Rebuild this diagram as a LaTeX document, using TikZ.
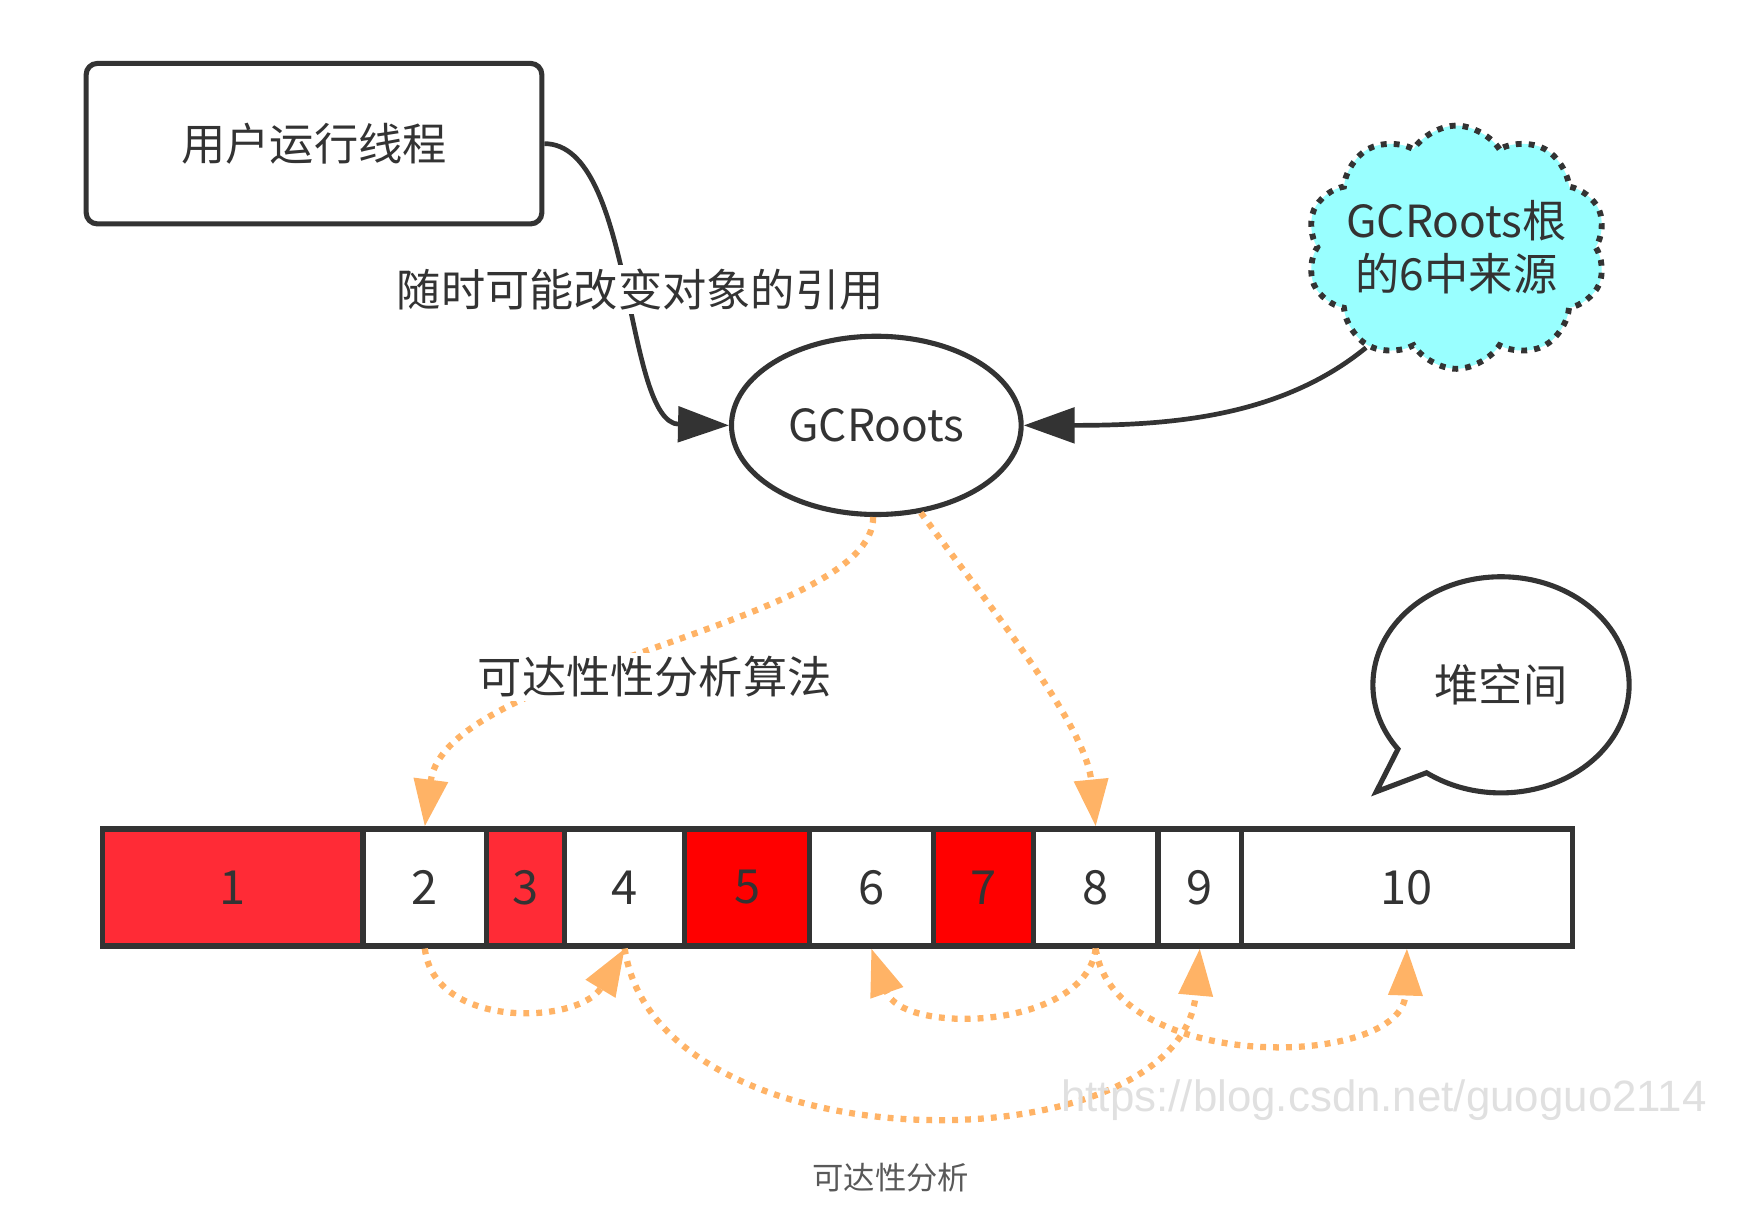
\documentclass[tikz,border=0pt]{standalone}
\usepackage{fontspec}
\setmainfont{Noto Sans CJK SC}
\newfontfamily\markfont{Liberation Sans}
\usetikzlibrary{arrows.meta,shapes.geometric,shapes.symbols,shapes.callouts}
\definecolor{ink}{HTML}{333333}
\definecolor{cellred}{HTML}{FF2B36}
\definecolor{deepred}{HTML}{FF0000}
\definecolor{reach}{HTML}{FFB366}
\definecolor{cloudcyan}{HTML}{99FFFF}

\begin{document}
\begin{tikzpicture}[x=0.01cm,y=-0.01cm,font=\fontsize{11.3}{13.5}\selectfont,text=ink,
        cell/.style={draw=ink,line width=1.3pt,minimum height=1.05cm,inner sep=0pt,font=\fontsize{12}{14}\selectfont},
        refline/.style={draw=ink,line width=1.2pt,-{Triangle[length=13pt,width=9pt]}},
        reachline/.style={draw=reach,line width=1.6pt,dash pattern=on 1.5pt off 1.8pt,-{Triangle[length=12pt,width=8.5pt]}}]
        \useasboundingbox (0,0) rectangle (1568,1099);
        \node[draw=ink,line width=1.3pt,rounded corners=0.1cm,minimum width=4.09cm,minimum height=1.44cm](user) at (282,129){用户运行线程};
        \node[ellipse,draw=ink,line width=1.3pt,minimum width=2.6cm,minimum height=1.6cm](gc) at (787,382){GCRoots};
        \node[cloud,cloud puffs=10,cloud puff arc=115,aspect=1.35,draw=ink,fill=cloudcyan,line width=1.5pt,dash pattern=on 1.5pt off 1.8pt,inner xsep=-3pt,inner ysep=-4pt,align=center,font=\fontsize{11.3}{13.6}\selectfont](src) at (1308,222){GCRoots根\\的6中来源};
        \node[ellipse callout,draw=ink,line width=1.3pt,minimum width=2.3cm,minimum height=1.94cm,callout absolute pointer={(1236,711)},callout pointer arc=18](heap) at (1348,615){堆空间};
        % heap cells
        \node[cell,fill=cellred,minimum width=2.34cm](c1) at (209,797){1};
        \node[cell,minimum width=1.11cm](c2) at (381.5,797){2};
        \node[cell,fill=cellred,minimum width=0.70cm](c3) at (472,797){3};
        \node[cell,minimum width=1.08cm](c4) at (561,797){4};
        \node[cell,fill=deepred,minimum width=1.12cm](c5) at (671,797){5};
        \node[cell,minimum width=1.11cm](c6) at (782.5,797){6};
        \node[cell,fill=deepred,minimum width=0.90cm](c7) at (883,797){7};
        \node[cell,minimum width=1.12cm](c8) at (984,797){8};
        \node[cell,minimum width=0.75cm](c9) at (1077.5,797){9};
        \node[cell,minimum width=2.97cm](c10) at (1263.5,797){10};
        % references into GCRoots
        \draw[refline](user.east)..controls(570,129)and(560,380)..(gc.west);
        \node[fill=white,inner sep=1pt](lbl1) at (575,260){随时可能改变对象的引用};
        \draw[refline](src.228)..controls(1150,375)and(1050,382)..(gc.east);
        % reachability
        \draw[reachline](gc.268)..controls(785,560)and(400,600)..(c2.north);
        \node[fill=white,inner sep=1pt](lbl2) at (588,608){可达性性分析算法};
        \draw[reachline](gc.297)..controls(885,540)and(975,650)..(c8.north);
        \draw[reachline](c2.south)..controls(390,925)and(520,920)..(c4.south);
        \draw[reachline](c4.south)..controls(590,1050)and(1060,1050)..(c9.south);
        \draw[reachline](c8.south)..controls(975,925)and(810,930)..(c6.south);
        \draw[reachline](c8.south)..controls(1000,965)and(1260,960)..(c10.south);
        \node[text=black!12,font=\markfont\fontsize{11.2}{13}\selectfont](mark) at (1243,988){https://blog.csdn.net/guoguo2114};
        \node[text=black!65,font=\fontsize{8}{10}\selectfont](cap) at (800,1058){可达性分析};
    \end{tikzpicture}
\end{document}
